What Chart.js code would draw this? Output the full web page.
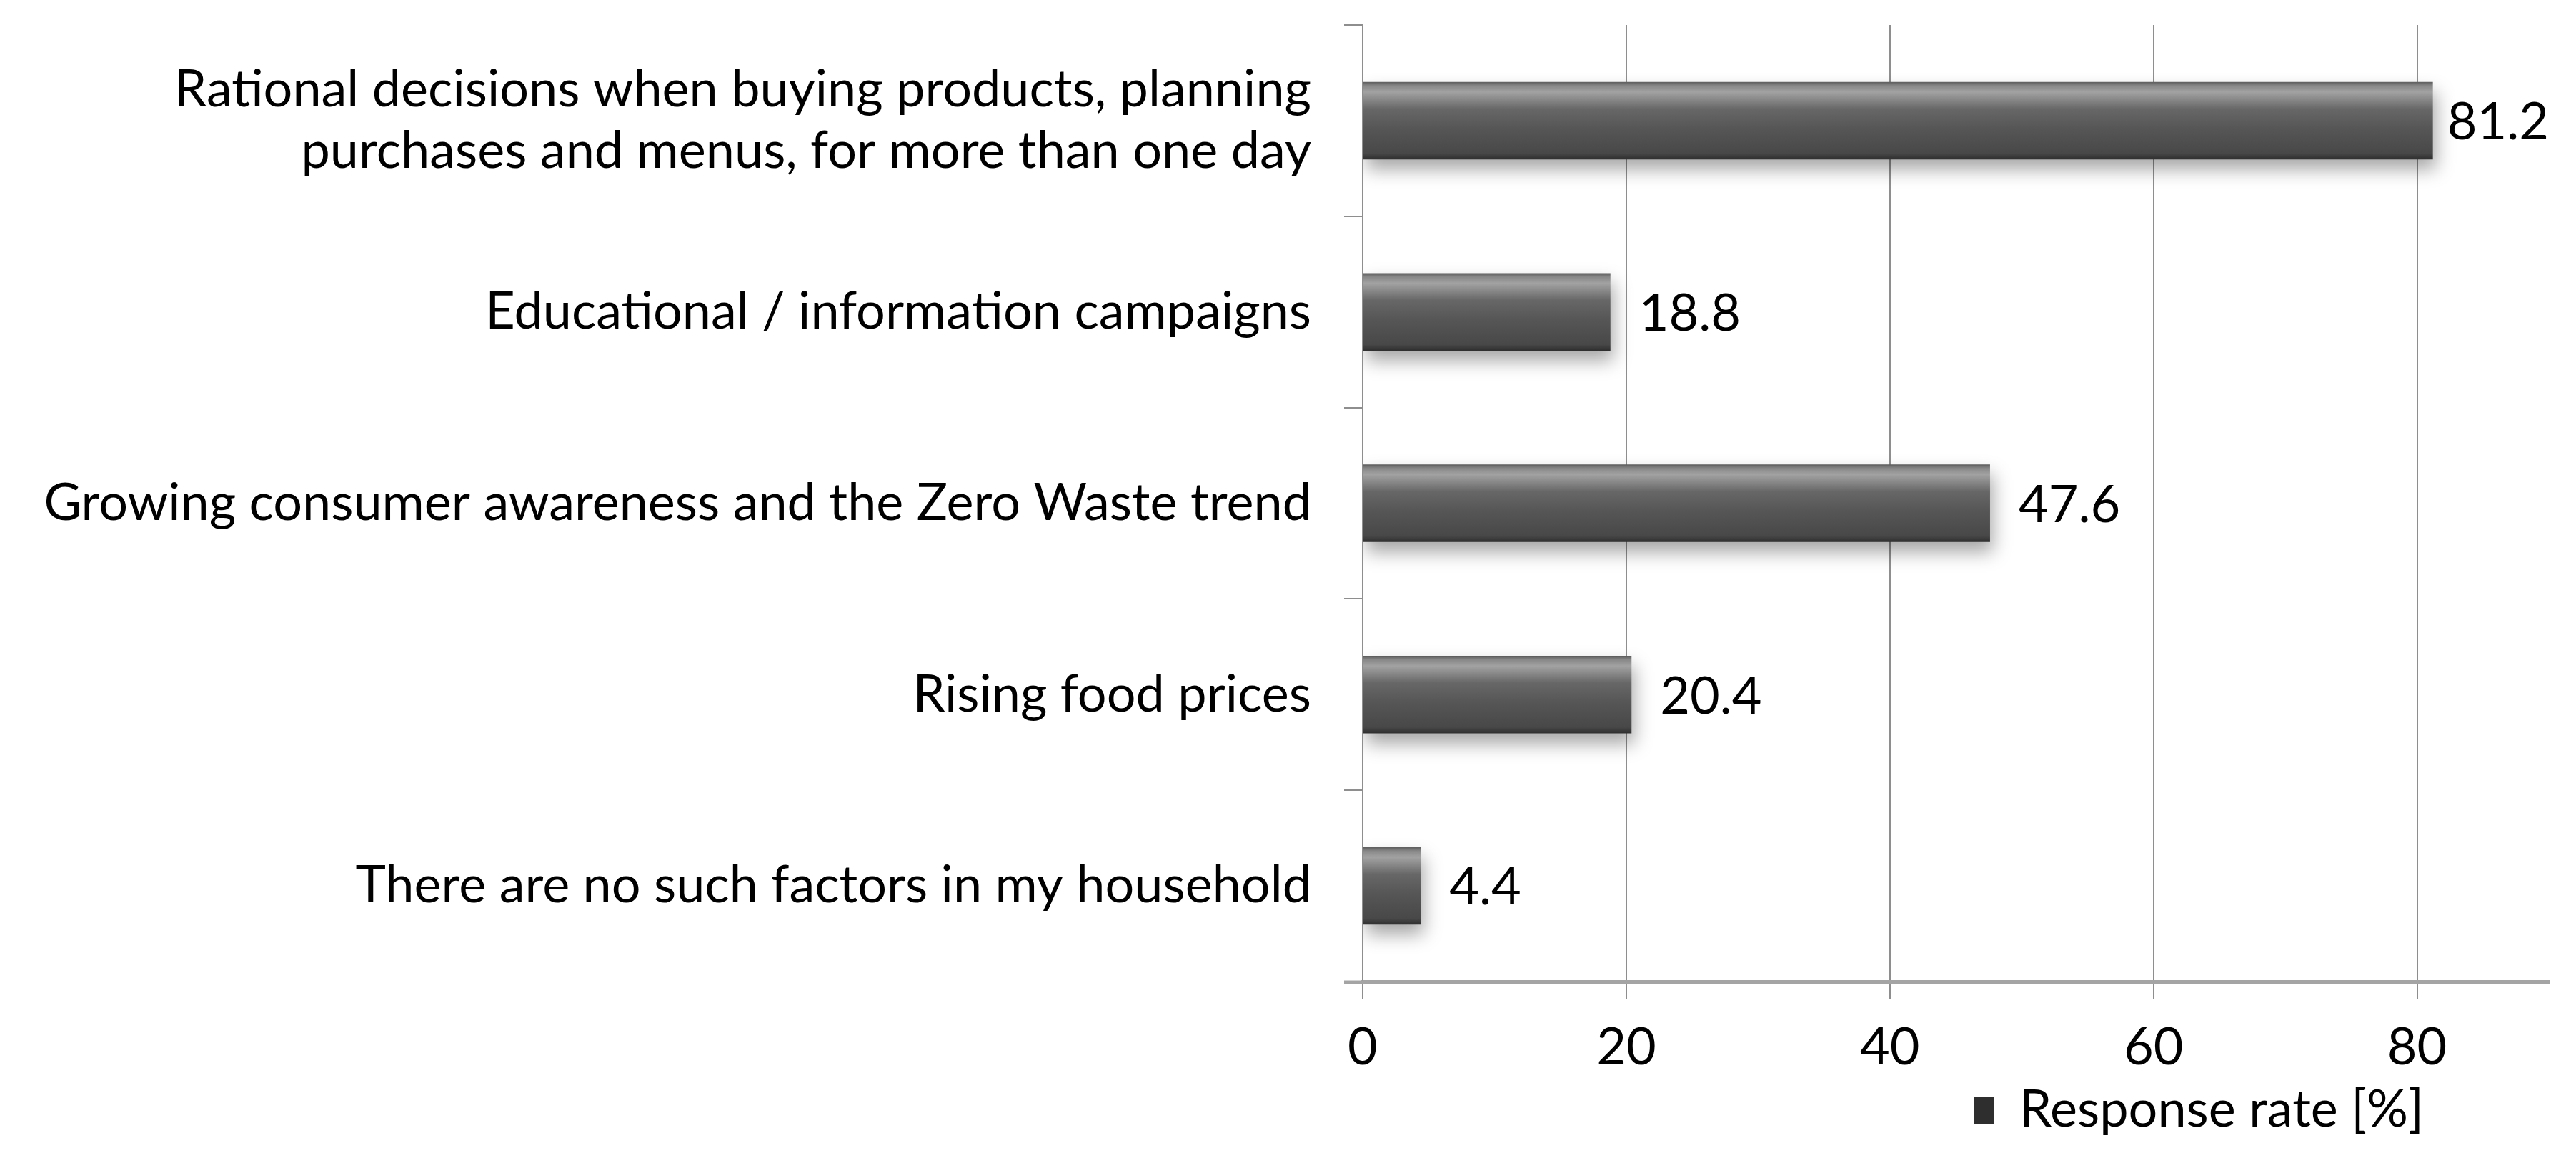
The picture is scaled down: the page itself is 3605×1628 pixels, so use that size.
<!DOCTYPE html>
<html>
<head>
<meta charset="utf-8">
<script src="https://cdn.jsdelivr.net/npm/chart.js@4.4.1/dist/chart.umd.min.js"></script>
<style>
  html, body { margin: 0; padding: 0; background: #fff; }
  #wrap { width: 3605px; height: 1628px; }
</style>
</head>
<body>
<div id="wrap"><canvas id="factorsChart"></canvas></div>
<script>
// categories, top to bottom
const categories = [
  ['Rational decisions when buying products, planning', 'purchases and menus, for more than one day'],
  'Educational / information campaigns',
  'Growing consumer awareness and the Zero Waste trend',
  'Rising food prices',
  'There are no such factors in my household'
];
const responseRate = [81.2, 18.8, 47.6, 20.4, 4.4];
const seriesName = 'Response rate [%]';
const xTicks = [0, 20, 40, 60, 80];

const FONT = 'Lato, "Open Sans", sans-serif';
const FONT_SIZE = 72;
const BAR_PCT = 0.405;

// bar fill: vertical gradient per bar, like a bevelled 3d bar
function barFill(c) {
  const chart = c.chart;
  if (c.type !== 'data' || !chart.chartArea || !chart.scales.y) return '#4f4f4f';
  const y = chart.scales.y.getPixelForValue(c.dataIndex);
  const band = chart.chartArea.height / categories.length;
  const h = band * BAR_PCT;
  const g = chart.ctx.createLinearGradient(0, y - h / 2, 0, y + h / 2);
  g.addColorStop(0, '#5c5c5c');
  g.addColorStop(0.05, '#888888');
  g.addColorStop(0.13, '#a2a2a2');
  g.addColorStop(0.35, '#676767');
  g.addColorStop(0.6, '#565656');
  g.addColorStop(0.92, '#484848');
  g.addColorStop(1, '#2e2e2e');
  return g;
}

// soft shadow under the bars
const barShadow = {
  id: 'barShadow',
  beforeDatasetsDraw(chart) {
    const ctx = chart.ctx;
    ctx.save();
    ctx.shadowColor = 'rgba(0,0,0,0.35)';
    ctx.shadowBlur = 24;
    ctx.shadowOffsetY = 14;
    ctx.shadowOffsetX = 4;
  },
  afterDatasetsDraw(chart) {
    chart.ctx.restore();
  }
};

// value labels at the end of each bar
const valueLabels = {
  id: 'valueLabels',
  afterDatasetsDraw(chart) {
    const ctx = chart.ctx;
    const meta = chart.getDatasetMeta(0);
    ctx.save();
    ctx.font = FONT_SIZE + 'px ' + FONT;
    ctx.fillStyle = '#000';
    ctx.textBaseline = 'middle';
    ctx.textAlign = 'left';
    meta.data.forEach((bar, i) => {
      const txt = responseRate[i].toFixed(1);
      const w = ctx.measureText(txt).width;
      let x = bar.x + 40;
      const maxX = chart.width - 38 - w;
      if (x > maxX) x = Math.max(bar.x + 4, maxX);
      ctx.fillText(txt, x, bar.y + 3);
    });
    ctx.restore();
  }
};

// x axis line runs a little past the y axis, over its tick marks
const axisStub = {
  id: 'axisStub',
  afterDraw(chart) {
    const ctx = chart.ctx;
    const a = chart.chartArea;
    ctx.save();
    ctx.strokeStyle = '#a4a4a4';
    ctx.lineWidth = 5;
    ctx.beginPath();
    ctx.moveTo(a.left - 26, a.bottom + 1);
    ctx.lineTo(a.left, a.bottom + 1);
    ctx.stroke();
    ctx.restore();
  }
};

// move legend to sit under the right part of the axis
const legendPlace = {
  id: 'legendPlace',
  beforeDraw(chart) {
    if (chart.legend) chart.legend.right = 3412;
  }
};

const ctx = document.getElementById('factorsChart').getContext('2d');
const factorsChart = new Chart(ctx, {
  type: 'bar',
  data: {
    labels: categories,
    datasets: [{
      label: seriesName,
      data: responseRate,
      backgroundColor: barFill,
      borderWidth: 0,
      barPercentage: BAR_PCT,
      categoryPercentage: 1
    }]
  },
  options: {
    indexAxis: 'y',
    responsive: true,
    maintainAspectRatio: false,
    animation: false,
    devicePixelRatio: 1,
    layout: { padding: { top: 35, right: 38, left: 0, bottom: 28 } },
    scales: {
      x: {
        min: 0,
        max: 90,
        afterBuildTicks: (axis) => { axis.ticks = xTicks.map(v => ({ value: v })); },
        afterFit: (scale) => {
          scale.height = 124;
          scale.paddingLeft = 0;
          scale.paddingRight = 0;
        },
        grid: {
          color: '#8e8e8e',
          lineWidth: 2,
          tickLength: 24,
          drawTicks: true
        },
        border: { display: true, color: '#a4a4a4', width: 5 },
        ticks: {
          color: '#000',
          padding: 26,
          font: { family: FONT, size: FONT_SIZE }
        }
      },
      y: {
        afterFit: (scale) => {
          scale.width = 1907;
          scale.paddingTop = 0;
          scale.paddingBottom = 0;
        },
        grid: {
          offset: true,
          drawOnChartArea: false,
          color: '#8e8e8e',
          lineWidth: 2,
          tickLength: 26
        },
        border: { display: true, color: '#8e8e8e', width: 2 },
        ticks: {
          color: '#000',
          padding: 46,
          font: { family: FONT, size: FONT_SIZE, lineHeight: 1.2 }
        }
      }
    },
    plugins: {
      legend: {
        position: 'bottom',
        align: 'end',
        labels: {
          color: '#000',
          boxWidth: 28,
          boxHeight: 38,
          padding: 20,
          font: { family: FONT, size: FONT_SIZE }
        }
      },
      tooltip: { enabled: false }
    }
  },
  plugins: [barShadow, valueLabels, axisStub, legendPlace]
});
</script>
</body>
</html>
